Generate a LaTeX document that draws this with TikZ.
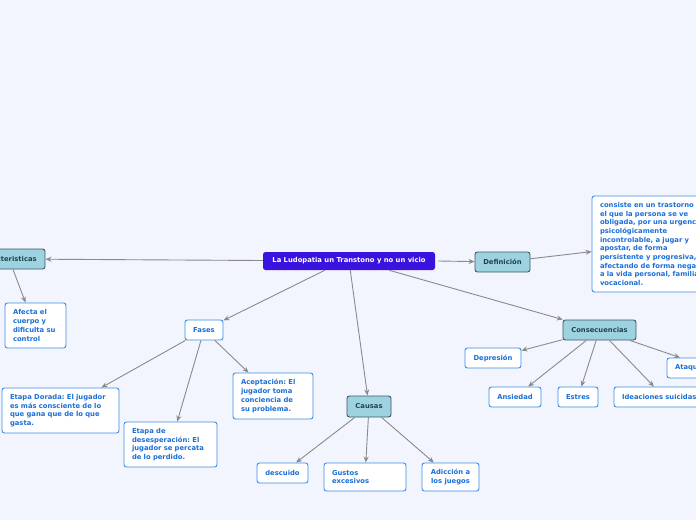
\documentclass[tikz,border=0pt]{standalone}
\usepackage{fontspec}
\setmainfont{DejaVu Sans}
\usetikzlibrary{arrows.meta}
\frenchspacing
\definecolor{bg}{HTML}{F2F5FE}
\definecolor{mainfill}{HTML}{3A14DE}
\definecolor{catfill}{HTML}{9DD3E0}
\definecolor{catdraw}{HTML}{3E5662}
\definecolor{cattext}{HTML}{24404F}
\definecolor{leafdraw}{HTML}{3B8DE8}
\definecolor{leaftext}{HTML}{1B6FD6}
\definecolor{edgecol}{HTML}{8A8A8A}
\tikzset{
  base/.style={rectangle, rounded corners=2.5pt, inner ysep=0pt, font=\fontsize{6.8}{8.7}\selectfont\bfseries},
  mainbox/.style={base, fill=mainfill, text=white},
  catbox/.style={base, fill=catfill, draw=catdraw, line width=0.9pt, text=cattext, align=center},
  leafbox/.style={base, fill=white, draw=leafdraw, line width=0.9pt, text=leaftext},
  leafone/.style={leafbox, align=center, inner xsep=0pt},
  leafmulti/.style={leafbox, align=left, inner xsep=8pt},
  edge/.style={draw=edgecol, line width=0.9pt, -{Stealth[length=6pt,width=5pt]}}
}
\begin{document}
\begin{tikzpicture}[x=1pt,y=-1pt]
\useasboundingbox (0,0) rectangle (696,520);
\fill[bg] (0,0) rectangle (696,520);
\clip (0,0) rectangle (696,520);

% central node
\node[mainbox, minimum width=172pt, minimum height=18pt] (main) at (349,261) {La Ludopatia un Transtono y no un vicio};

% categories
\node[catbox, minimum width=74pt, minimum height=20pt] (car) at (8,259) {Caracteristicas};
\node[catbox, minimum width=55pt, minimum height=20pt] (def) at (502.5,262) {Definición};
\node[catbox, minimum width=44pt, minimum height=21pt] (causas) at (369,406.5) {Causas};
\node[catbox, minimum width=73pt, minimum height=20pt] (consec) at (599.5,330) {Consecuencias};
\node[leafone, minimum width=38pt, minimum height=20pt] (fases) at (204,330) {Fases};

% leaves
\node[leafmulti, text width=45pt, minimum height=45pt] (afecta) at (35.5,325.5) {Afecta el\\cuerpo y\\dificulta su\\control};
\node[leafmulti, text width=114pt, minimum height=96pt] (deftext) at (657,244) {consiste en un trastorno en\\el que la persona se ve\\obligada, por una urgencia\\psicológicamente\\incontrolable, a jugar y\\apostar, de forma\\persistente y progresiva,\\afectando de forma negativa\\a la vida personal, familiar y\\vocacional.};
\node[leafmulti, text width=101pt, minimum height=45pt] (dorada) at (60.5,410.5) {Etapa Dorada: El jugador\\es más consciente de lo\\que gana que de lo que\\gasta.};
\node[leafmulti, text width=77pt, minimum height=45pt] (deses) at (170.5,444.5) {Etapa de\\desesperación: El\\jugador se percata\\de lo perdido.};
\node[leafmulti, text width=64pt, minimum height=46pt] (acept) at (273,396) {Aceptación: El\\jugador toma\\conciencia de\\su problema.};
\node[leafone, minimum width=51pt, minimum height=20pt] (descuido) at (282.5,473) {descuido};
\node[leafmulti, text width=66pt, minimum height=28pt] (gustos) at (365,477) {Gustos\\excesivos};
\node[leafone, minimum width=57pt, minimum height=28pt] (adiccion) at (450.5,477) {Adicción a\\los juegos};
\node[leafone, minimum width=56pt, minimum height=20pt] (depresion) at (493,358) {Depresión};
\node[leafone, minimum width=52pt, minimum height=20pt] (ansiedad) at (515,397) {Ansiedad};
\node[leafone, minimum width=40pt, minimum height=20pt] (estres) at (578,397) {Estres};
\node[leafmulti, text width=84pt, minimum height=20pt] (ideas) at (664,397) {Ideaciones suicidas};
\node[leafmulti, text width=44pt, minimum height=20pt] (ataque) at (697,368) {Ataques};

% connectors
\draw[edge] (main) -- (car);
\draw[edge] ([xshift=5pt]car.south) -- ([xshift=-10pt]afecta.north);
\draw[edge] ([xshift=3pt]main.east) -- (def);
\draw[edge] (def) -- (deftext);
\draw[edge] ([xshift=-24pt]main.south) -- (fases);
\draw[edge] (main) -- (causas);
\draw[edge] ([xshift=40pt]main.south) -- (consec);
\draw[edge] (fases) -- (dorada);
\draw[edge] (fases) -- (deses);
\draw[edge] (fases) -- (acept);
\draw[edge] (causas) -- (descuido);
\draw[edge] (causas) -- (gustos);
\draw[edge] (causas) -- (adiccion);
\draw[edge] (consec) -- (depresion);
\draw[edge] (consec) -- (ansiedad);
\draw[edge] (consec) -- (estres);
\draw[edge] (consec) -- (ideas);
\draw[edge] (consec) -- ([xshift=-17pt]ataque.north);
\end{tikzpicture}
\end{document}
